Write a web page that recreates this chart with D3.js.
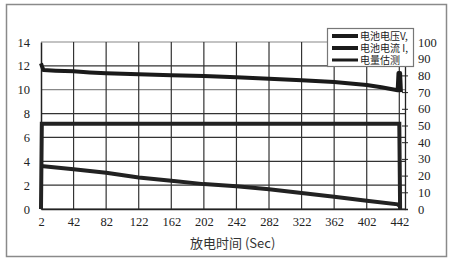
<!DOCTYPE html>
<html>
<head>
<meta charset="utf-8">
<script src="https://cdn.jsdelivr.net/npm/d3@7"></script>
<style>
  body { margin: 0; background: #fff; }
</style>
</head>
<body>
<div id="chart"></div>
<script>
// time ticks (sec)
const xTicks = [2, 42, 82, 122, 162, 202, 242, 282, 322, 362, 402, 442];
const leftTicks = [0, 2, 4, 6, 8, 10, 12, 14];
const rightTicks = [0, 10, 20, 30, 40, 50, 60, 70, 80, 90, 100];

// battery voltage (V), left axis
const voltT = [2, 3, 5, 20, 42, 62, 82, 122, 162, 202, 242, 282, 322, 362, 402, 420, 440, 441, 443, 444];
const voltV = [12.2, 12.0, 11.65, 11.6, 11.55, 11.45, 11.38, 11.3, 11.22, 11.15, 11.05, 10.92, 10.8, 10.65, 10.4, 10.2, 9.95, 11.4, 11.4, 9.8];

// battery current (A), left axis
const currT = [2, 3, 442, 443];
const currV = [0, 7.15, 7.15, 0];

// capacity estimate (%), right axis
const capT = [2, 42, 82, 122, 162, 202, 242, 282, 322, 362, 402, 440, 443];
const capV = [25.7, 23.8, 21.7, 18.9, 16.9, 14.9, 13.6, 11.8, 9.6, 7.4, 5.0, 2.8, 1.5];

const legendNames = ["电池电压V,", "电池电流 I,", "电量估测"];

const serif = "'Liberation Serif', 'Times New Roman', 'DejaVu Serif', serif";
const cjk = "'Noto Sans CJK SC', sans-serif";

const width = 450, height = 260;
const svg = d3.select("#chart").append("svg")
  .attr("width", width).attr("height", height);

// outer frame
svg.append("rect")
  .attr("x", 6.5).attr("y", 4.5).attr("width", 440).attr("height", 252)
  .attr("fill", "#fff").attr("stroke", "#8a8a8a").attr("stroke-width", 1.5);

const x = d3.scaleLinear().domain([2, 449]).range([41, 405]);
const yL = d3.scaleLinear().domain([0, 14]).range([209, 42]);
const yR = d3.scaleLinear().domain([0, 100]).range([209, 42]);

// grid
svg.append("g").selectAll("line").data(leftTicks).join("line")
  .attr("x1", x(2)).attr("x2", x(449))
  .attr("y1", d => yL(d)).attr("y2", d => yL(d))
  .attr("stroke", d => (d === 14 || d === 10) ? "#888" : "#333")
  .attr("stroke-width", 1.2);

svg.append("g").selectAll("line").data(xTicks.slice(1)).join("line")
  .attr("x1", d => x(d)).attr("x2", d => x(d))
  .attr("y1", yL(14)).attr("y2", yL(0))
  .attr("stroke", "#333").attr("stroke-width", 1.2);

// axes
const leftAxis = svg.append("g").attr("transform", `translate(${x(2)},0)`)
  .call(d3.axisLeft(yL).tickValues(leftTicks).tickSize(0).tickPadding(11));
leftAxis.select(".domain").attr("stroke", "#222").attr("stroke-width", 1.5);

const bottomAxis = svg.append("g").attr("transform", `translate(0,${yL(0)})`)
  .call(d3.axisBottom(x).tickValues(xTicks).tickSize(0).tickPadding(8));
bottomAxis.select(".domain").attr("stroke", "#222").attr("stroke-width", 1.5);

const rightAxis = svg.append("g").attr("transform", `translate(${x(449)},0)`)
  .call(d3.axisRight(yR).tickValues(rightTicks).tickSize(3).tickPadding(10));
rightAxis.select(".domain").attr("stroke", "#222").attr("stroke-width", 1.3);
rightAxis.selectAll(".tick line").attr("stroke", "#222").attr("x1", -3);

[leftAxis, bottomAxis, rightAxis].forEach(a => a.attr("font-family", serif));
svg.selectAll(".tick text")
  .style("font-family", serif)
  .attr("font-size", 12.5).attr("fill", "#222");

// series
const lineL = d3.line().x(d => x(d[0])).y(d => yL(d[1]));
const lineR = d3.line().x(d => x(d[0])).y(d => yR(d[1]));

svg.append("path").datum(capT.map((t, i) => [t, capV[i]]))
  .attr("d", lineR).attr("fill", "none")
  .attr("stroke", "#222").attr("stroke-width", 4);

svg.append("path").datum(currT.map((t, i) => [t, currV[i]]))
  .attr("d", lineL).attr("fill", "none")
  .attr("stroke", "#222").attr("stroke-width", 4).attr("stroke-linejoin", "miter");

svg.append("path").datum(voltT.map((t, i) => [t, voltV[i]]))
  .attr("d", lineL).attr("fill", "none")
  .attr("stroke", "#1a1a1a").attr("stroke-width", 4).attr("stroke-linejoin", "round");

// legend
const lg = svg.append("g");
lg.append("rect").attr("x", 327.5).attr("y", 28.5).attr("width", 86).attr("height", 38)
  .attr("fill", "#fff").attr("stroke", "#777").attr("stroke-width", 1.2);
legendNames.forEach((name, i) => {
  const yy = 36 + i * 12;
  lg.append("line").attr("x1", 332).attr("x2", 358).attr("y1", yy).attr("y2", yy)
    .attr("stroke", "#1a1a1a").attr("stroke-width", i === 2 ? 3 : 4);
  lg.append("text").attr("x", 360).attr("y", yy + 3.5)
    .style("font-family", cjk)
    .attr("font-size", 10).attr("fill", "#222").text(name);
});

// x-axis title
svg.append("text").attr("x", 190).attr("y", 248)
  .style("font-family", cjk)
  .attr("font-size", 13).attr("fill", "#333").text("放电时间 (Sec)");
</script>
</body>
</html>
